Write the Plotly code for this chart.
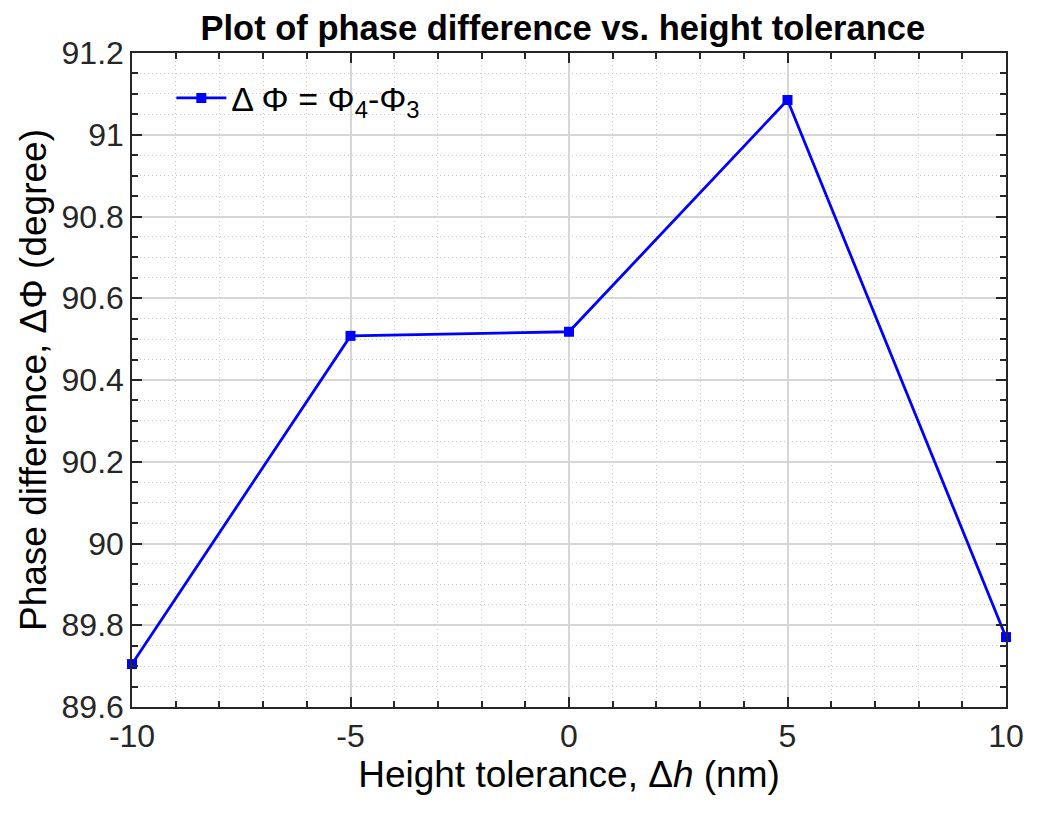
import plotly.graph_objects as go

# data
height_tol = [-10, -5, 0, 5, 10]
phase_diff = [89.705, 90.508, 90.518, 91.085, 89.771]

x_ticks = [-10, -5, 0, 5, 10]
x_labels = ['-10', '-5', '0', '5', '10']
y_ticks = [89.6, 89.8, 90, 90.2, 90.4, 90.6, 90.8, 91, 91.2]
y_labels = ['89.6', '89.8', '90', '90.2', '90.4', '90.6', '90.8', '91', '91.2']

fig = go.Figure()

fig.add_trace(go.Scatter(
    x=height_tol,
    y=phase_diff,
    mode='lines+markers',
    name='Δ Φ = Φ<sub>4</sub>-Φ<sub>3</sub>',
    line=dict(color='#0000ff', width=2.8),
    marker=dict(symbol='square', size=10, color='#0000ff'),
    cliponaxis=False,
))

axis_common = dict(
    showline=True, linecolor='#262626', linewidth=1.5, mirror='ticks',
    ticks='inside', ticklen=10, tickcolor='#262626', tickwidth=1.5,
    showgrid=True, gridcolor='#d6d6d6', gridwidth=1.5,
    zeroline=False,
    tickfont=dict(family='Arial', size=32, color='#262626'),
)

minor_common = dict(ticks='inside', ticklen=6, tickcolor='#262626',
                    showgrid=True, gridcolor='#c8c8c8', griddash='1px,3px', gridwidth=1)

fig.update_xaxes(
    range=[-10, 10], tickvals=x_ticks, ticktext=x_labels,
    minor=dict(dtick=1, **minor_common),
    title=dict(text='Height tolerance, Δ<i>h</i> (nm)',
               font=dict(family='Arial', size=37, color='black'), standoff=4),
    **axis_common,
)
fig.update_yaxes(
    range=[89.6, 91.2], tickvals=y_ticks, ticktext=y_labels,
    minor=dict(dtick=0.05, **minor_common),
    title=dict(text='Phase difference, ΔΦ (degree)',
               font=dict(family='Arial', size=37, color='black'), standoff=4),
    **axis_common,
)

fig.update_layout(
    width=1041, height=815,
    margin=dict(l=124, r=43, t=45, b=116),
    paper_bgcolor='white', plot_bgcolor='white',
    title=dict(text='<b>Plot of phase difference vs. height tolerance</b>',
               font=dict(family='Arial', size=34.5, color='black'),
               x=0.533, xanchor='center', y=0.975, yanchor='middle'),
    showlegend=True,
    legend=dict(x=0.045, y=0.975, xanchor='left', yanchor='top',
                bgcolor='rgba(0,0,0,0)', borderwidth=0, itemwidth=50,
                font=dict(family='Arial', size=34, color='black')),
)

fig.write_html("out.html")
